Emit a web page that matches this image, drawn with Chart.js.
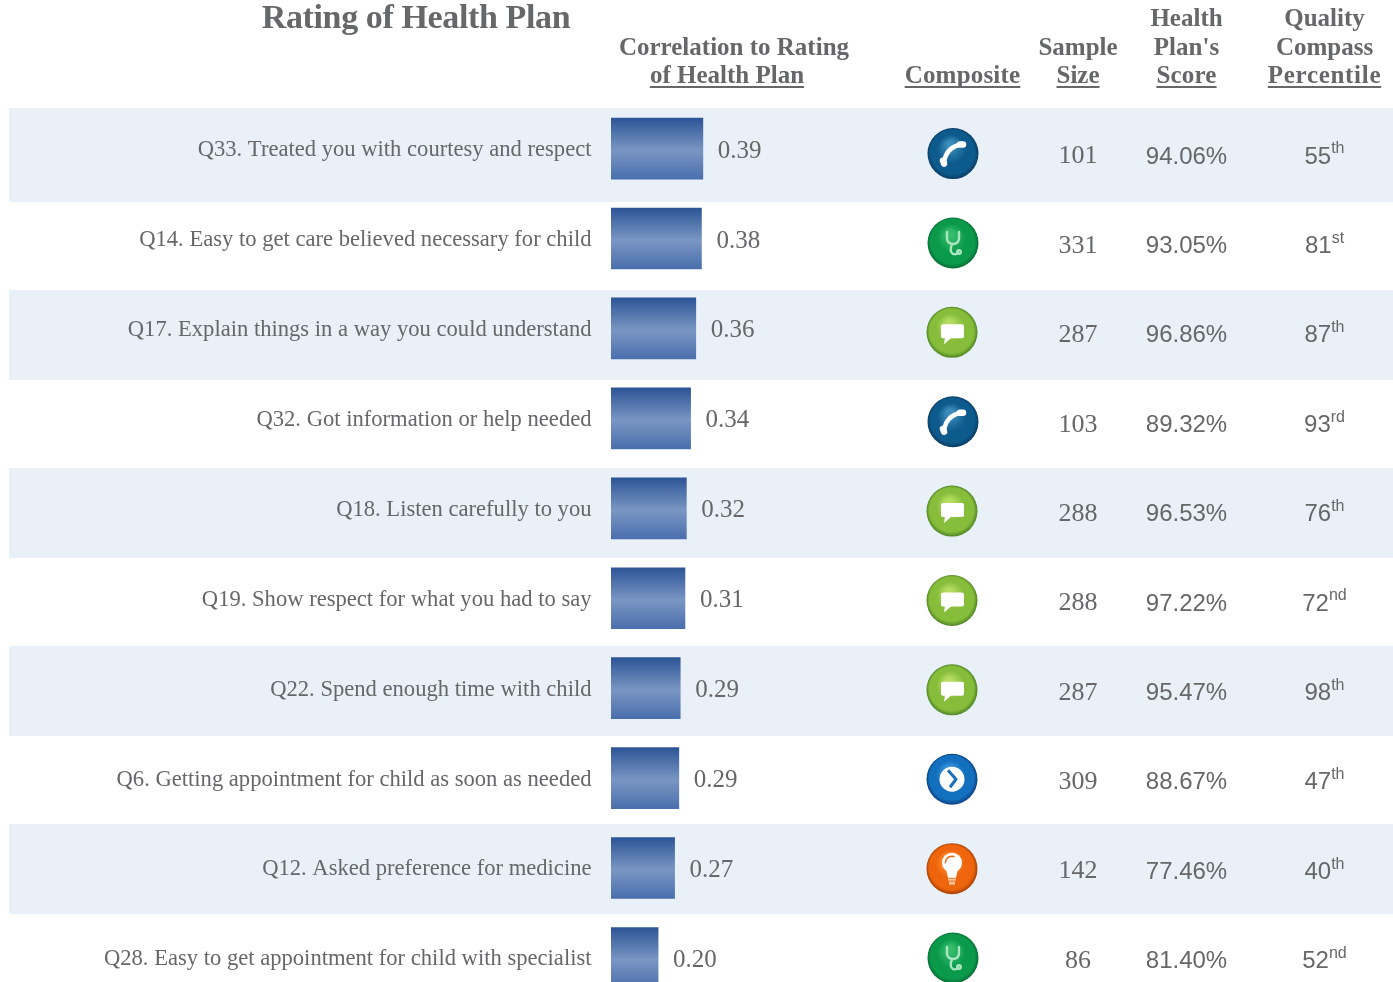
<!DOCTYPE html>
<html><head><meta charset="utf-8"><title>Rating of Health Plan</title>
<script src="https://cdn.jsdelivr.net/npm/chart.js@4"></script>
<style>html,body{margin:0;padding:0;background:#fff;overflow:hidden;width:1393px;height:982px}canvas{display:block}</style>
</head><body><canvas id="c" width="1393" height="1036" style="width:1393px;height:1036px"></canvas>
<script>
const questions=["Q33. Treated you with courtesy and respect","Q14. Easy to get care believed necessary for child","Q17. Explain things in a way you could understand","Q32. Got information or help needed","Q18. Listen carefully to you","Q19. Show respect for what you had to say","Q22. Spend enough time with child","Q6. Getting appointment for child as soon as needed","Q12. Asked preference for medicine","Q28. Easy to get appointment for child with specialist"];
const correlation=[0.39,0.384,0.36,0.338,0.32,0.314,0.294,0.288,0.27,0.2];
const composite=["phone","stethoscope","chat","phone","chat","chat","chat","arrow","bulb","stethoscope"];
const sampleSize=["101","331","287","103","288","288","287","309","142","86"];
const planScore=["94.06%","93.05%","96.86%","89.32%","96.53%","97.22%","95.47%","88.67%","77.46%","81.40%"];
const percentile=["55","81","87","93","76","72","98","47","40","52"];
const ordinal=["th","st","th","rd","th","nd","th","th","th","nd"];
const title="Rating of Health Plan";
const headers=[
 {x:734,lines:["Correlation to Rating"],last:"of Health Plan",lastX:727},
 {x:962.5,lines:[],last:"Composite",sp:.2},
 {x:1078,lines:["Sample"],last:"Size"},
 {x:1186.5,lines:["Health","Plan's"],last:"Score",sp:.2},
 {x:1324.5,lines:["Quality","Compass"],last:"Percentile",sp:.7}];
const GREY="#666769",SERIF="'Liberation Serif','DejaVu Serif',serif",SANS="'Liberation Sans',Arial,sans-serif";
const palette={phone:["#3d8dbb","#0d5a8c","#0a3c62"],stethoscope:["#35bd6c","#0b9a4c","#066f35"],chat:["#b6dc62","#86bd3a","#4f8526"],arrow:["#3b9be0","#1270be","#0b4080"],bulb:["#ff9a3c","#ef650d","#a84303"]};
function glyph(g,kind,x,y){
 g.save();g.translate(x,y);g.fillStyle="#fff";g.strokeStyle="#fff";g.lineCap="round";g.lineJoin="round";
 if(kind==="phone"){
  g.lineWidth=4.5;g.beginPath();g.moveTo(-9,9);g.quadraticCurveTo(-7,-6,8,-9);g.stroke();
  g.lineWidth=6.5;g.beginPath();g.moveTo(-10,7);g.lineTo(-9,10);g.stroke();g.beginPath();g.moveTo(7,-9);g.lineTo(10,-9);g.stroke();
 }else if(kind==="stethoscope"){
  g.strokeStyle="#a9e6c0";g.lineWidth=2.4;
  g.beginPath();g.moveTo(-6,-11);g.lineTo(-6,-4);g.quadraticCurveTo(-5,1,0,1);g.quadraticCurveTo(5,1,6,-4);g.lineTo(6,-11);g.stroke();
  g.beginPath();g.moveTo(-1,1);g.quadraticCurveTo(-4,9,0,11);g.quadraticCurveTo(3,12,5,10);g.stroke();
  g.beginPath();g.arc(6,9,1.8,0,7);g.stroke();
 }else if(kind==="chat"){
  g.beginPath();g.roundRect(-11,-8,23,14,2);g.fill();
  g.beginPath();g.moveTo(-7,5);g.lineTo(-8,12);g.lineTo(0,5);g.fill();
 }else if(kind==="arrow"){
  g.beginPath();g.arc(0,0,12.5,0,7);g.fill();
  g.strokeStyle="#1a70bb";g.lineWidth=3;g.lineCap="butt";g.beginPath();g.moveTo(-4,-9);g.lineTo(4,0);g.lineTo(-2,8);g.stroke();
 }else{
  g.beginPath();g.arc(0,-6,10,0,7);g.fill();
  g.beginPath();g.moveTo(-6,0);g.lineTo(-4,9);g.lineTo(4,9);g.lineTo(6,0);g.fill();
  g.fillStyle="#f8c9a0";g.fillRect(-4,10,8,2);g.fillRect(-3,13,6,3);
  g.strokeStyle="#ef650d";g.lineWidth=1.5;g.beginPath();g.arc(0,-6,6.5,Math.PI,Math.PI*1.6);g.stroke();
 }
 g.restore();
}
function icon(g,kind,x,y){
 const p=palette[kind],r=25.5;
 g.save();
 const rim=g.createRadialGradient(x-3,y-9,3,x,y,r);
 rim.addColorStop(0,p[0]);rim.addColorStop(.5,p[1]);rim.addColorStop(.85,p[1]);rim.addColorStop(1,p[2]);
 g.fillStyle=rim;g.beginPath();g.arc(x,y,r,0,7);g.fill();
 g.restore();
 glyph(g,kind,x,y);
}
const tableLayer={id:"tableLayer",
 beforeDraw(ch){
  const g=ch.ctx;
  g.save();g.fillStyle="#e9f0f8";
  questions.forEach((q,i)=>{
   if(i%2)return;
   const top=i===0?108:290+89*(i-2);
   const h=i===0?94:90;
   g.fillRect(9,top,1384,h);
  });
  g.restore();
 },
 afterDraw(ch){
  const g=ch.ctx,ys=ch.scales.y,meta=ch.getDatasetMeta(0);
  g.save();
  g.fillStyle=GREY;g.textBaseline="alphabetic";g.textAlign="center";
  g.font="bold 34px "+SERIF;g.letterSpacing="-0.38px";
  g.fillText(title,416,28);
  headers.forEach(h=>{
   g.font="bold 25px "+SERIF;g.letterSpacing="0px";
   h.lines.forEach((t,k)=>g.fillText(t,h.x,83-28.5*(h.lines.length-k)));
   g.letterSpacing=(h.sp||0)+"px";
   const lx=h.lastX||h.x;g.fillText(h.last,lx,83);
   const w=g.measureText(h.last).width;
   g.fillRect(lx-w/2,86,w,2);
  });
  g.letterSpacing="0px";
  questions.forEach((q,i)=>{
   const c=ys.getPixelForValue(i),drift=7.5-.55*i,ty=c+drift,iy=ty-2.5;
   g.textBaseline="middle";g.fillStyle=GREY;
   g.textAlign="left";g.font="25px "+SERIF;
   g.fillText(correlation[i].toFixed(2),meta.data[i].x+15,c+2.5);
   icon(g,composite[i],composite[i]==="chat"||composite[i]==="arrow"||composite[i]==="bulb"?952:953,iy);
   g.fillStyle=GREY;g.textAlign="center";g.font="26px "+SERIF;
   g.fillText(sampleSize[i],1078,ty+.5);
   g.font="24px "+SANS;
   g.fillText(planScore[i],1186.5,ty+1);
   const w1=g.measureText(percentile[i]).width;
   g.font="16px "+SANS;
   const w2=g.measureText(ordinal[i]).width,sx=1324.5-(w1+w2)/2;
   g.textAlign="left";g.font="24px "+SANS;
   g.fillText(percentile[i],sx,ty+1);
   g.font="16px "+SANS;
   g.fillText(ordinal[i],sx+w1,ty-7);
  });
  g.restore();
 }};
new Chart(document.getElementById("c"),{
 type:"bar",
 data:{labels:questions,datasets:[{data:correlation,barThickness:61,borderWidth:0,
  backgroundColor(ctx){
   const ch=ctx.chart,ys=ch.scales.y;
   if(!ys||ctx.dataIndex===undefined)return "#5b7fb5";
   const c=ys.getPixelForValue(ctx.dataIndex);
   if(!Number.isFinite(c))return "#5b7fb5";
   const g=ch.ctx.createLinearGradient(0,c-30.5,0,c+30.5);
   g.addColorStop(0,"#2c5596");g.addColorStop(.53,"#7a96c3");g.addColorStop(1,"#4a6fad");
   return g;
  }}]},
 options:{indexAxis:"y",responsive:false,animation:false,
  layout:{padding:{top:103.6,bottom:0.6,left:0,right:0}},
  plugins:{legend:{display:false},tooltip:{enabled:false},title:{display:false}},
  scales:{
   x:{display:false,min:0,max:3.32},
   y:{afterFit(s){s.width=611;},border:{display:false},
      grid:{display:false,drawTicks:false},
      ticks:{padding:19.5,labelOffset:1.5,color:GREY,autoSkip:false,font:{family:SERIF,size:22.6}}}
  }},
 plugins:[tableLayer]});
</script></body></html>
